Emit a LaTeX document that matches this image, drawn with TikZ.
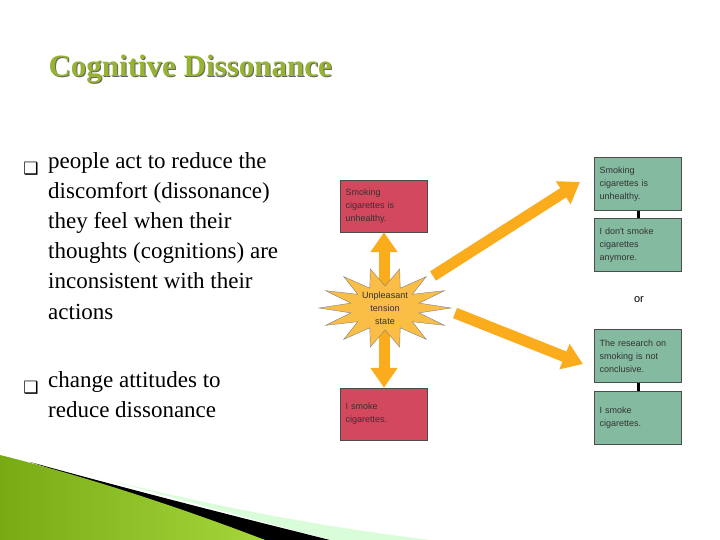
\documentclass[tikz,border=0pt]{standalone}
\usepackage{fontspec}
\setmainfont{Liberation Serif}
\newfontfamily\sans{Liberation Sans}
\newfontfamily\dejavu{DejaVu Sans}
\usetikzlibrary{arrows.meta}
\definecolor{redbox}{RGB}{212,72,94}
\definecolor{greenbox}{RGB}{132,186,160}
\definecolor{orangearr}{RGB}{250,172,28}
\definecolor{startcol}{RGB}{250,190,70}
\definecolor{titlecol}{RGB}{150,180,50}
\definecolor{leafA}{RGB}{120,170,20}
\definecolor{leafB}{RGB}{165,215,60}
\tikzset{
  rbox/.style={draw=black!70,fill=redbox,minimum width=87pt,minimum height=52pt,inner sep=5pt,text width=77pt,align=left,font=\sans\fontsize{9}{13}\selectfont,text=black!80},
  gbox/.style={rbox,fill=greenbox,minimum height=53pt},
  bigarr/.style={draw=orangearr,line width=11pt,-{Triangle[length=20pt,width=26pt]}},
  body/.style={anchor=north west,align=left,font=\fontsize{23}{30.2}\selectfont,inner sep=0pt},
}
\begin{document}
\begin{tikzpicture}[x=1pt,y=-1pt]
\useasboundingbox (0,0) rectangle (720,540);
% bottom decoration
\fill[black!8!green!15] (100,478) .. controls (250,515) and (350,530) .. (430,540) -- (330,540) -- cycle;
\fill[black] (30,462) .. controls (150,495) and (250,520) .. (330,540) -- (265,540) -- cycle;
\shade[left color=leafA,right color=leafB] (0,455) .. controls (100,480) and (200,515) .. (265,540) -- (0,540) -- cycle;
% title
\node[anchor=west,font=\fontsize{31}{36}\selectfont\bfseries,text=black!60] at (46,70) {Cognitive Dissonance};
\node[anchor=west,font=\fontsize{31}{36}\selectfont\bfseries,text=titlecol] (title) at (45,69) {Cognitive Dissonance};
% body text
\node[body] (b1) at (48,152) {people act to reduce the\\discomfort (dissonance)\\they feel when their\\thoughts (cognitions) are\\inconsistent with their\\actions};
\node[font=\dejavu\fontsize{17}{18}\selectfont,inner sep=0pt] (m1) at (31,169) {❑};
\node[body] (b2) at (48,371) {change attitudes to\\reduce dissonance};
\node[font=\dejavu\fontsize{17}{18}\selectfont,inner sep=0pt] (m2) at (31,388) {❑};
% boxes
\node[rbox] (r1) at (384,206) {Smoking\\cigarettes is\\unhealthy.};
\node[rbox] (r2) at (384,414) {I smoke\\cigarettes.};
\node[gbox] (g1) at (638,184) {Smoking\\cigarettes is\\unhealthy.};
\node[gbox] (g2) at (638,245) {I don't smoke\\cigarettes\\anymore.};
\node[gbox] (g3) at (638,356) {The research on\\smoking is not\\conclusive.};
\node[gbox] (g4) at (638,418) {I smoke\\cigarettes.};
\draw[line width=3pt] (g1.south) -- (g2.north);
\draw[line width=3pt] (g3.south) -- (g4.north);
\node[font=\sans\fontsize{11}{12}\selectfont] (or) at (639,300) {or};
% arrows
\draw[bigarr,{Triangle[length=20pt,width=26pt]}-{Triangle[length=20pt,width=26pt]}] (r1.south) -- (r2.north);
\fill[startcol,draw=black!50] plot[samples at={0,...,27}] ({385+(mod(\x,2)==0?66:35)*cos(\x*360/28)},{308+(mod(\x,2)==0?40:22)*sin(\x*360/28)}) -- cycle;
\node[font=\sans\fontsize{9}{13}\selectfont,align=center,text=black!80] (star) at (385,308) {Unpleasant\\tension\\state};
\coordinate (a1s) at (433,276);
\coordinate (a1e) at (580,182);
\coordinate (a2s) at (455,313);
\coordinate (a2e) at (583,364);
\draw[bigarr] (a1s) -- (a1e);
\draw[bigarr] (a2s) -- (a2e);
\end{tikzpicture}
\end{document}
